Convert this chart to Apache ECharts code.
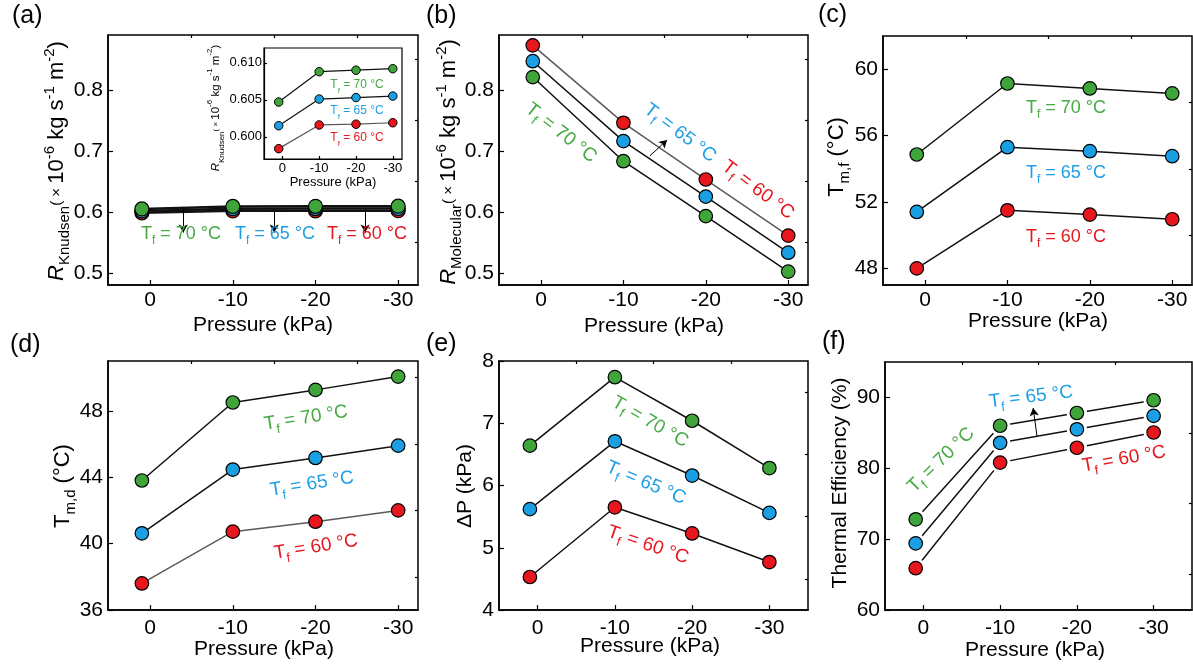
<!DOCTYPE html>
<html><head><meta charset="utf-8">
<script src="https://cdn.jsdelivr.net/npm/echarts@6/dist/echarts.min.js"></script>
<style>html,body{margin:0;padding:0;background:#fff}#c{width:1193px;height:666px}</style>
</head><body><div id="c"></div>
<script>
// ---------------- data ----------------
const pressure = [1, -10, -20, -30];
const xTicks = [0, -10, -20, -30];
const xMinorTicks = [-5, -15, -25];

const knudsen60 = [0.5984, 0.6016, 0.6017, 0.6019];
const knudsen65 = [0.6015, 0.6051, 0.6053, 0.6055];
const knudsen70 = [0.6047, 0.6088, 0.6090, 0.6092];

const molecular60 = [0.873, 0.746, 0.653, 0.561];
const molecular65 = [0.847, 0.716, 0.625, 0.533];
const molecular70 = [0.821, 0.683, 0.593, 0.502];

const tmf60 = [48.0, 51.5, 51.24, 50.96];
const tmf65 = [51.4, 55.3, 55.06, 54.76];
const tmf70 = [54.86, 59.14, 58.84, 58.54];

const tmd60 = [37.6, 40.72, 41.32, 42.0];
const tmd65 = [40.62, 44.46, 45.16, 45.9];
const tmd70 = [43.8, 48.5, 49.26, 50.06];

const dp60 = [4.53, 5.65, 5.23, 4.77];
const dp65 = [5.62, 6.71, 6.16, 5.56];
const dp70 = [6.64, 7.74, 7.04, 6.28];

const eff60 = [65.9, 80.8, 82.9, 85.05];
const eff65 = [69.4, 83.6, 85.5, 87.4];
const eff70 = [72.8, 86.0, 87.8, 89.6];

const yTicksR = [0.5, 0.6, 0.7, 0.8];
const yMinorR = [0.55, 0.65, 0.75, 0.85];
const yTicksInset = [0.600, 0.605, 0.610];
const yTicksTmf = [48, 52, 56, 60];
const yMinorTmf = [50, 54, 58];
const yTicksTmd = [36, 40, 44, 48];
const yMinorTmd = [38, 42, 46, 50];
const yTicksDp = [4, 5, 6, 7, 8];
const yMinorDp = [4.5, 5.5, 6.5, 7.5];
const yTicksEff = [60, 70, 80, 90];
const yMinorEff = [65, 75, 85];

// annotation arrows [x1,y1,x2,y2] in data units
const arrowsA = [[-4, 0.604, -4, 0.566], [-15, 0.604, -15, 0.566], [-26, 0.604, -26, 0.566]];
const arrowsB = [[-13.2, 0.6916, -15.3, 0.7179]];
const arrowsF = [[-14.8, 84.56, -14.3, 88.5]];

// ---------------- style ----------------
const FONT = '"Liberation Sans", Arial, sans-serif';
const GREEN = '#3fa53a', BLUE = '#1a9fe3', RED = '#e8171d';
const TGREEN = '#47aa44', TBLUE = '#1e9fe3', TRED = '#e3191f';
const GREYLINE = '#5a5a5a';

const grids = [
  {left: 108, top: 35, width: 310, height: 250},  // a
  {left: 499, top: 35, width: 309, height: 250},  // b
  {left: 883, top: 36, width: 309, height: 249},  // c
  {left: 108, top: 361, width: 310, height: 249}, // d
  {left: 499, top: 361, width: 309, height: 249}, // e
  {left: 885, top: 362, width: 307, height: 248}, // f
  {left: 264, top: 48, width: 138, height: 111}   // inset of a
];
const xRanges = [[-32.4, 5.1], [-32.4, 5.1], [-32.4, 5.1], [-32.4, 5.1], [-35, 5], [-35, 5], [-32.5, 5]];
const yRanges = [[0.48, 0.89], [0.48, 0.89], [47, 62], [36, 51], [4, 8], [60, 95], [0.597, 0.612]];
const yTickSets = [yTicksR, yTicksR, yTicksTmf, yTicksTmd, yTicksDp, yTicksEff, yTicksInset];
const yMinorSets = [yMinorR, yMinorR, yMinorTmf, yMinorTmd, yMinorDp, yMinorEff, []];

const xAxes = [], yAxes = [];
grids.forEach((g, i) => {
  const inset = i === 6;
  const lw = inset ? 1.2 : 1.5;
  const fs = inset ? 13 : 21;
  const xMargin = inset ? 3 : (i < 3 ? 5 : 8);
  xAxes.push({
    type: 'value', gridIndex: i, inverse: true, min: xRanges[i][0], max: xRanges[i][1],
    axisLine: {show: true, onZero: false, lineStyle: {color: '#000', width: lw}},
    axisTick: {show: true, inside: true, length: inset ? 3 : 5, customValues: xTicks, lineStyle: {color: '#000', width: 1.2}},
    axisLabel: {customValues: xTicks, fontSize: fs, fontFamily: FONT, color: '#000', margin: xMargin},
    splitLine: {show: false}
  });
  xAxes.push({
    type: 'value', gridIndex: i, inverse: true, min: xRanges[i][0], max: xRanges[i][1],
    axisLine: {show: false, onZero: false},
    axisTick: {show: !inset, inside: true, length: 3, customValues: xMinorTicks, lineStyle: {color: '#000', width: 1.2}},
    axisLabel: {show: false}, splitLine: {show: false}
  });
  yAxes.push({
    type: 'value', gridIndex: i, min: yRanges[i][0], max: yRanges[i][1],
    axisLine: {show: true, onZero: false, lineStyle: {color: '#000', width: lw}},
    axisTick: {show: true, inside: true, length: inset ? 3 : 5, customValues: yTickSets[i], lineStyle: {color: '#000', width: 1.2}},
    axisLabel: {customValues: yTickSets[i], fontSize: fs, fontFamily: FONT, color: '#000', margin: inset ? 2 : 5,
      formatter: inset ? (v => v.toFixed(3)) : (v => String(+v.toFixed(2)))},
    splitLine: {show: false}
  });
  yAxes.push({
    type: 'value', gridIndex: i, min: yRanges[i][0], max: yRanges[i][1],
    axisLine: {show: false, onZero: false},
    axisTick: {show: yMinorSets[i].length > 0, inside: true, length: 3, customValues: yMinorSets[i].length ? yMinorSets[i] : [yRanges[i][0]], lineStyle: {color: '#000', width: 1.2}},
    axisLabel: {show: false}, splitLine: {show: false}
  });
});

const series = [];
function pts(vals) { return pressure.map((p, k) => [p, vals[k]]); }
function addPanel(gi, sets, opt) {
  // sets: [[vals, color, lineColor], ...]
  sets.forEach(([vals, color, lineColor], k) => {
    series.push({
      type: 'line', xAxisIndex: gi * 2, yAxisIndex: gi * 2, data: pts(vals),
      symbol: 'circle', symbolSize: opt.halo ? opt.size + 7 : opt.size,
      itemStyle: opt.halo ? {color: '#fff', borderWidth: 0} : {color: color, borderColor: '#000', borderWidth: opt.bw || 1.2},
      lineStyle: {color: lineColor, width: opt.lw || 1.5},
      z: 2 + k * 0.01, silent: true, animation: false
    });
  });
  if (opt.halo) {
    sets.forEach(([vals, color], k) => {
      series.push({
        type: 'scatter', xAxisIndex: gi * 2, yAxisIndex: gi * 2, data: pts(vals),
        symbol: 'circle', symbolSize: opt.size,
        itemStyle: {color: color, borderColor: '#000', borderWidth: opt.bw || 1.2, opacity: 1},
        z: 4, silent: true, animation: false
      });
    });
  }
  if (opt.arrows) {
    series.push({
      type: 'line', xAxisIndex: gi * 2, yAxisIndex: gi * 2, data: [], silent: true, animation: false,
      markLine: {
        silent: true, animation: false, symbol: ['none', 'arrow'], symbolSize: [7, 8],
        lineStyle: {color: '#000', width: 1, type: 'solid'}, label: {show: false},
        emphasis: {disabled: true},
        data: opt.arrows.map(a => [{coord: [a[0], a[1]]}, {coord: [a[2], a[3]]}])
      }
    });
  }
}
addPanel(0, [[knudsen60, RED, '#111'], [knudsen65, BLUE, '#111'], [knudsen70, GREEN, '#111']], {size: 14, lw: 2.5, arrows: arrowsA});
addPanel(6, [[knudsen60, RED, GREYLINE], [knudsen65, BLUE, '#111'], [knudsen70, GREEN, '#111']], {size: 8.5, lw: 1.2, bw: 1});
addPanel(1, [[molecular60, RED, GREYLINE], [molecular65, BLUE, '#111'], [molecular70, GREEN, '#111']], {size: 13.5, arrows: arrowsB});
addPanel(2, [[tmf60, RED, '#111'], [tmf65, BLUE, '#111'], [tmf70, GREEN, '#111']], {size: 13.5});
addPanel(3, [[tmd60, RED, GREYLINE], [tmd65, BLUE, '#111'], [tmd70, GREEN, '#111']], {size: 13.5});
addPanel(4, [[dp60, RED, '#111'], [dp65, BLUE, '#111'], [dp70, GREEN, '#111']], {size: 13.5});
addPanel(5, [[eff60, RED, '#111'], [eff65, BLUE, '#111'], [eff70, GREEN, '#111']], {size: 13.5, halo: true, arrows: arrowsF});

// ---------------- texts ----------------
function richSet(color, fs) {
  const s = Math.round(fs * 0.66);
  const lh = fs + 8;
  const base = {fontFamily: FONT, fill: color, color: color};
  return {
    n: Object.assign({fontSize: fs, lineHeight: lh}, base),
    i: Object.assign({fontSize: fs, lineHeight: lh, fontStyle: 'italic'}, base),
    x: Object.assign({fontSize: Math.round(fs * 0.7), lineHeight: lh}, base),
    b: Object.assign({fontSize: s, lineHeight: s, verticalAlign: 'bottom'}, base),
    p: Object.assign({fontSize: s, lineHeight: s, verticalAlign: 'top'}, base)
  };
}
const deg = Math.PI / 180;
function txt(text, x, y, color, fs, rotDeg, align) {
  return {
    type: 'text', x: x, y: y, rotation: (rotDeg || 0) * deg, silent: true, z: 100,
    style: {
      text: text, rich: richSet(color, fs), fill: color, font: fs + 'px ' + FONT,
      align: align || 'center', verticalAlign: 'middle', textAlign: align || 'center', textVerticalAlign: 'middle'
    }
  };
}
const tf = t => '{n|T}{b|f}{n| = ' + t + ' °C}';
const rUnits = '{x|(}{x| × }{n|10}{p|-6}{n| kg s}{p|-1}{n| m}{p|-2}{n|)}';

const texts = [
  // panel letters
  txt('{n|(a)}', 12, 16, '#000', 25, 0, 'left'),
  txt('{n|(b)}', 426, 16, '#000', 25, 0, 'left'),
  txt('{n|(c)}', 818, 15, '#000', 25, 0, 'left'),
  txt('{n|(d)}', 10, 345, '#000', 25, 0, 'left'),
  txt('{n|(e)}', 426, 344, '#000', 25, 0, 'left'),
  txt('{n|(f)}', 822, 342, '#000', 25, 0, 'left'),
  // x titles
  txt('{n|Pressure (kPa)}', 263, 325, '#000', 21),
  txt('{n|Pressure (kPa)}', 654, 326, '#000', 21),
  txt('{n|Pressure (kPa)}', 1038, 321, '#000', 21),
  txt('{n|Pressure (kPa)}', 264, 649, '#000', 21),
  txt('{n|Pressure (kPa)}', 650, 646, '#000', 21),
  txt('{n|Pressure (kPa)}', 1035, 650, '#000', 21),
  txt('{n|Pressure (kPa)}', 333, 182, '#000', 13),
  // y titles
  txt('{i|R}{b|Knudsen}' + rUnits, 57, 161, '#000', 22, 90),
  txt('{i|R}{b|Molecular}' + rUnits, 449, 162, '#000', 22, 90),
  txt('{i|R}{b|Knudsen}' + rUnits, 216, 108, '#000', 11.5, 90),
  txt('{n|T}{b|m,f}{n| (°C)}', 837, 157, '#000', 22, 90),
  txt('{n|T}{b|m,d}{n| (°C)}', 63, 486, '#000', 22, 90),
  txt('{n|ΔP (kPa)}', 465, 486, '#000', 21, 90),
  txt('{n|Thermal Efficiency (%)}', 840, 483, '#000', 21, 90),
  // annotations
  txt(tf(70), 181, 234, TGREEN, 18), txt(tf(65), 275, 234, TBLUE, 18), txt(tf(60), 367, 234, TRED, 18),
  txt(tf(70), 357, 85, TGREEN, 12), txt(tf(65), 357, 111, TBLUE, 12), txt(tf(60), 357, 138, TRED, 12),
  txt(tf(70), 561, 133, TGREEN, 19, -38), txt(tf(65), 680, 133, TBLUE, 19, -37), txt(tf(60), 758, 190, TRED, 19, -37),
  txt(tf(70), 1066, 108, TGREEN, 18), txt(tf(65), 1066, 173, TBLUE, 18), txt(tf(60), 1066, 237, TRED, 18),
  txt(tf(70), 306, 418, TGREEN, 19, 9), txt(tf(65), 312, 484, TBLUE, 19, 9), txt(tf(60), 316, 547, TRED, 19, 9),
  txt(tf(70), 650, 422, TGREEN, 19, -30), txt(tf(65), 646, 483, TBLUE, 19, -23), txt(tf(60), 648, 545, TRED, 19, -19),
  txt(tf(70), 941, 460, TGREEN, 19, 44), txt(tf(65), 1031, 397, TBLUE, 19, 7), txt(tf(60), 1124, 459, TRED, 19, 10)
];

const chart = echarts.init(document.getElementById('c'), null, {renderer: 'canvas'});
chart.setOption({
  animation: false,
  backgroundColor: '#fff',
  grid: grids.map((g, i) => Object.assign({show: true, borderColor: '#000', borderWidth: i === 6 ? 1.2 : 1.5, backgroundColor: 'transparent', containLabel: false}, g)),
  xAxis: xAxes,
  yAxis: yAxes,
  series: series,
  graphic: {elements: texts}
});
</script>
</body></html>
